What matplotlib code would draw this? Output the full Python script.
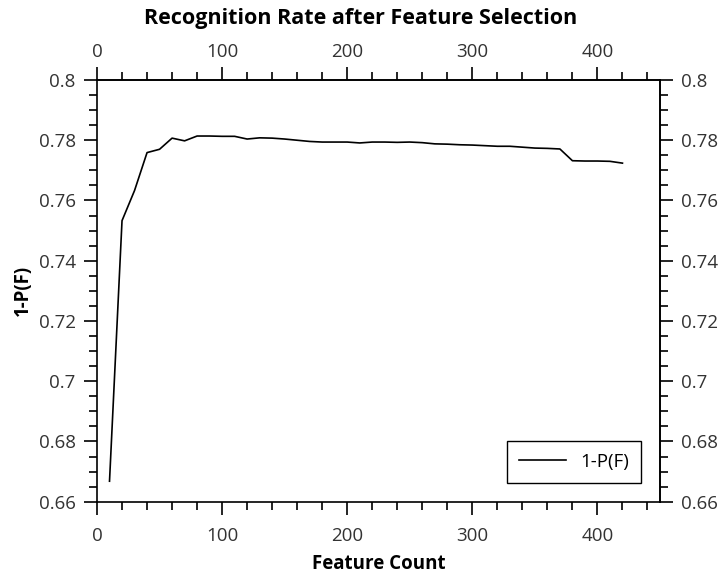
import matplotlib
matplotlib.use("Agg")
import matplotlib.pyplot as plt
from matplotlib.ticker import MultipleLocator, FixedLocator, FuncFormatter

plt.rcParams['font.family'] = ['Open Sans', 'DejaVu Sans']

feature_count = list(range(10, 430, 10))
rate = [0.6668, 0.7533, 0.7633, 0.7759, 0.7770, 0.7807, 0.7798, 0.7814, 0.7814, 0.7813,
        0.7813, 0.7804, 0.7808, 0.7807, 0.7804, 0.7800, 0.7796, 0.7794, 0.7794, 0.7794,
        0.7791, 0.7794, 0.7794, 0.7793, 0.7794, 0.7792, 0.7788, 0.7787, 0.7785, 0.7784,
        0.7782, 0.7780, 0.7780, 0.7777, 0.7774, 0.7773, 0.7771, 0.7732, 0.7731, 0.7731,
        0.7730, 0.7724]
x_ticks = [0, 100, 200, 300, 400]
y_ticks = [0.66, 0.68, 0.70, 0.72, 0.74, 0.76, 0.78, 0.80]
series_label = "1-P(F)"
title = "Recognition Rate after Feature Selection"
xlabel = "Feature Count"
ylabel = "1-P(F)"

W, H = 722, 575
fig = plt.figure(figsize=(W / 100, H / 100), dpi=100)
L, R, T, B = 97, 660, 80, 501.7
ax = fig.add_axes([L / W, 1 - B / H, (R - L) / W, (B - T) / H])
ax.plot(feature_count, rate, color='black', linewidth=1.2, label=series_label)

ax.set_xlim(0, 450)
ax.set_ylim(0.66, 0.8)

yfmt = FuncFormatter(lambda v, p: f"{v:.2f}".rstrip('0').rstrip('.'))
xfmt = FuncFormatter(lambda v, p: f"{v:.0f}")
LS = 13.5
LC = '#333333'


def style(axis_obj, pad):
    axis_obj.set_tick_params(which='both', direction='out', width=1.2, colors='black',
                             labelcolor=LC, labelsize=LS)
    axis_obj.set_tick_params(which='major', length=9.5, pad=pad)
    axis_obj.set_tick_params(which='minor', length=5.5)


def setup_x(axis_obj, pad):
    axis_obj.set_major_locator(FixedLocator(x_ticks))
    axis_obj.set_minor_locator(FixedLocator(list(range(0, 451, 20))))
    axis_obj.set_major_formatter(xfmt)
    style(axis_obj, pad)


def setup_y(axis_obj, pad):
    axis_obj.set_major_locator(FixedLocator(y_ticks))
    axis_obj.set_minor_locator(FixedLocator([0.66 + 0.005 * i for i in range(29)]))
    axis_obj.set_major_formatter(yfmt)
    style(axis_obj, pad)


setup_x(ax.xaxis, 9.0)
setup_y(ax.yaxis, 5.8)

top = ax.secondary_xaxis('top')
setup_x(top.xaxis, 4.2)
right = ax.secondary_yaxis('right')
setup_y(right.yaxis, 5.8)

for a in (ax, top, right):
    for s in a.spines.values():
        s.set_linewidth(1.2)

fig.text(0.5, 1 - 24 / H, title, fontsize=15.5, fontweight='bold',
         ha='center', va='baseline', color='black')
fig.text((L + R) / 2 / W, 1 - 569 / H, xlabel, fontsize=13.5, fontweight='bold',
         ha='center', va='baseline', color='black')
fig.text(23 / W, 1 - (T + B) / 2 / H, ylabel, fontsize=13.5, fontweight='bold',
         ha='center', va='center', rotation=90, color='black')

leg = ax.legend(loc='lower right', fontsize=13.5, fancybox=False, edgecolor='black',
                framealpha=1, handlelength=2.5, borderpad=0.65, handletextpad=0.75,
                borderaxespad=0, bbox_to_anchor=((641 - L) / (R - L), (B - 483) / (B - T)))
leg.get_frame().set_linewidth(1.0)

fig.savefig("out.png", dpi=100)
